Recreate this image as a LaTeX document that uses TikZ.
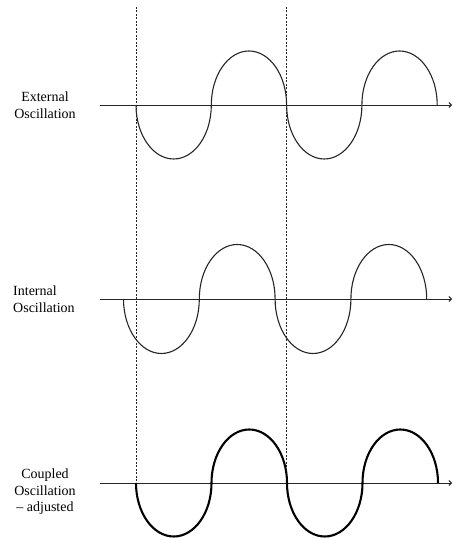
\documentclass[tikz,border=0pt]{standalone}
\usepackage{fontspec}
\setmainfont{Liberation Serif}
\usetikzlibrary{arrows.meta}
\tikzset{
  axisline/.style={draw=black!85, line width=0.9pt, -{Straight Barb[length=2.5pt,width=5pt]}},
  guide/.style={draw=black!85, line width=1pt, dash pattern=on 2pt off 1.5pt},
  wave/.style={draw=black!85, line width=1.1pt},
  boldwave/.style={draw=black, line width=2.1pt},
  lbl/.style={font=\fontsize{14}{16.5}\selectfont, inner sep=0pt, text=black}
}
\begin{document}
\begin{tikzpicture}[x=1pt,y=1pt]
\useasboundingbox (0,0) rectangle (452,540);
% labels
\node[lbl, align=center] (ext) at (45,435) {External\\Oscillation};
\node[lbl, align=left, anchor=west] (int) at (13,241) {Internal\\Oscillation};
\node[lbl, align=center] (cpl) at (45,48) {Coupled\\Oscillation\\– adjusted};
% axes
\coordinate (a1s) at (100,435); \coordinate (a1e) at (452,435);
\coordinate (a2s) at (100,241); \coordinate (a2e) at (452,241);
\coordinate (a3s) at (100,57);  \coordinate (a3e) at (452,57);
\draw[axisline] (a1s) -- (a1e);
\draw[axisline] (a2s) -- (a2e);
\draw[axisline] (a3s) -- (a3e);
% dashed guides
\coordinate (g1t) at (136,533); \coordinate (g1b) at (136,57);
\coordinate (g2t) at (286.7,533); \coordinate (g2b) at (286.7,57);
\draw[guide] (g1t) -- (g1b);
\draw[guide] (g2t) -- (g2b);
% external oscillation
\draw[wave] (136,435)
  arc[start angle=180, end angle=360, x radius=37.65, y radius=54]
  arc[start angle=180, end angle=0, x radius=37.65, y radius=54]
  arc[start angle=180, end angle=360, x radius=37.65, y radius=54]
  arc[start angle=180, end angle=0, x radius=37.65, y radius=54];
% internal oscillation
\draw[wave] (123.5,241)
  arc[start angle=180, end angle=360, x radius=37.9, y radius=54.5]
  arc[start angle=180, end angle=0, x radius=37.9, y radius=54.5]
  arc[start angle=180, end angle=360, x radius=37.9, y radius=54.5]
  arc[start angle=180, end angle=0, x radius=37.9, y radius=54.5];
% coupled oscillation
\draw[boldwave] (136,57)
  arc[start angle=180, end angle=360, x radius=37.75, y radius=53.5]
  arc[start angle=180, end angle=0, x radius=37.75, y radius=53.5]
  arc[start angle=180, end angle=360, x radius=37.75, y radius=53.5]
  arc[start angle=180, end angle=0, x radius=37.75, y radius=53.5];
\end{tikzpicture}
\end{document}
